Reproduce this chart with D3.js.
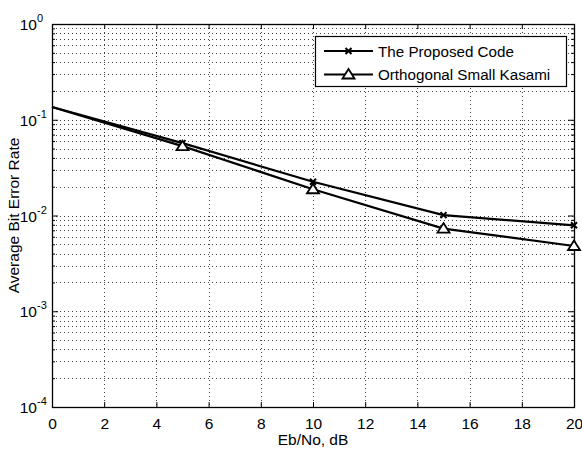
<!DOCTYPE html>
<html><head><meta charset="utf-8">
<script src="https://cdn.jsdelivr.net/npm/d3@7"></script>
<style>body{margin:0;background:#fff}svg{display:block}text{font-family:"Liberation Sans",Arial,sans-serif}</style>
</head><body><svg id="c" width="582" height="449"></svg>
<script>
const snr = [0, 5, 10, 15, 20];
const proposed = [0.136, 0.057, 0.0225, 0.0101, 0.0079];
const kasami = [0.136, 0.053, 0.0188, 0.0073, 0.0048];
const xTicks = [0,2,4,6,8,10,12,14,16,18,20];
const yExps = [0,-1,-2,-3,-4];
const seriesNames = ["The Proposed Code", "Orthogonal Small Kasami"];

const svg = d3.select("#c");
const L=52,R=574,T=24,B=407;
const x = d3.scaleLinear().domain([0,20]).range([L,R]);
const y = d3.scaleLog().domain([1e-4,1]).range([B,T]);

svg.append("rect").attr("x",0).attr("y",0).attr("width",582).attr("height",449).attr("fill","#fff");
const g = svg.append("g");
const minors=[];
for(let e=-4;e<0;e++){for(let m=2;m<=9;m++){minors.push(m*Math.pow(10,e));}}
const majors = yExps.map(e=>Math.pow(10,e));
const dot = "1,3";
g.selectAll(".hg").data(minors.concat(majors.slice(1,4))).join("line")
 .attr("x1",L).attr("x2",R).attr("y1",d=>Math.round(y(d))+0.5).attr("y2",d=>Math.round(y(d))+0.5)
 .attr("stroke","#000").attr("stroke-width",1).attr("stroke-dasharray",dot).attr("opacity",0.75);
g.selectAll(".vg").data(xTicks.slice(1,-1)).join("line")
 .attr("y1",T).attr("y2",B).attr("x1",d=>Math.round(x(d))+0.5).attr("x2",d=>Math.round(x(d))+0.5)
 .attr("stroke","#000").attr("stroke-width",1).attr("stroke-dasharray",dot).attr("opacity",0.75);

const xb = d3.axisBottom(x).tickValues(xTicks).tickSize(-5).tickPadding(11).tickFormat(d3.format("d"));
const xt = d3.axisTop(x).tickValues(xTicks).tickSize(-5).tickFormat("");
const yl = d3.axisLeft(y).tickValues(majors).tickSize(-6).tickFormat("");
const ylm = d3.axisLeft(y).tickValues(minors).tickSize(-3).tickFormat("");
const yr = d3.axisRight(y).tickValues(majors).tickSize(-6).tickFormat("");
const yrm = d3.axisRight(y).tickValues(minors).tickSize(-3).tickFormat("");
function style(sel){sel.select(".domain").remove();sel.selectAll("line").attr("stroke","#000");sel.selectAll("text").attr("fill","#000").attr("font-size",15.5).attr("font-family","Liberation Sans, Arial, sans-serif");}
g.append("g").attr("transform",`translate(0,${B})`).call(xb).call(style);
g.append("g").attr("transform",`translate(0,${T})`).call(xt).call(style);
g.append("g").attr("transform",`translate(${L},0)`).call(yl).call(style);
g.append("g").attr("transform",`translate(${L},0)`).call(ylm).call(style);
g.append("g").attr("transform",`translate(${R},0)`).call(yr).call(style);
g.append("g").attr("transform",`translate(${R},0)`).call(yrm).call(style);
g.append("rect").attr("x",L+0.5).attr("y",T+0.5).attr("width",R-L).attr("height",B-T).attr("fill","none").attr("stroke","#000").attr("stroke-width",1.3);

const yt = g.selectAll(".ytl").data(yExps).join("g");
yt.append("text").attr("font-size",15.5).attr("x",L-15).attr("y",d=>y(Math.pow(10,d))+6).attr("text-anchor","end").text("10");
yt.append("text").attr("font-size",11).attr("x",L-15).attr("y",d=>y(Math.pow(10,d))-2).attr("text-anchor","start").text(d=>d===0?"0":"-"+(-d));

g.append("text").attr("x",(L+R)/2).attr("y",445).attr("text-anchor","middle").attr("font-size",15.5).text("Eb/No, dB");
g.append("text").attr("transform",`translate(19,${(T+B)/2}) rotate(-90)`).attr("text-anchor","middle").attr("font-size",15.5).text("Average Bit Error Rate");

const line = d3.line().x((d,i)=>x(snr[i])).y(d=>y(d));
[proposed,kasami].forEach(s=>{
  g.append("path").attr("d",line(s)).attr("fill","none").attr("stroke","#000").attr("stroke-width",2.2);
});
function xMark(sel){sel.append("path").attr("d","M-3,-3L3,3M-3,3L3,-3").attr("stroke","#000").attr("stroke-width",2).attr("fill","none");}
function triMark(sel){sel.append("path").attr("d","M0,-5.5L6,4L-6,4Z").attr("stroke","#000").attr("stroke-width",1.8).attr("fill","#fff");}
proposed.forEach((v,i)=>{if(snr[i]===0)return;const m=g.append("g").attr("transform",`translate(${x(snr[i])},${y(v)})`);xMark(m);});
kasami.forEach((v,i)=>{if(snr[i]===0)return;const m=g.append("g").attr("transform",`translate(${x(snr[i])},${y(v)})`);triMark(m);});

const lg = g.append("g");
lg.append("rect").attr("x",315.5).attr("y",36.5).attr("width",251).attr("height",50).attr("fill","#fff").attr("stroke","#000").attr("stroke-width",1.2);
seriesNames.forEach((n,i)=>{
  const yy = 51+i*23.5;
  lg.append("line").attr("x1",324).attr("x2",373).attr("y1",yy).attr("y2",yy).attr("stroke","#000").attr("stroke-width",2.2);
  const m=lg.append("g").attr("transform",`translate(348.5,${yy})`);
  if(i===0)xMark(m);else triMark(m);
  lg.append("text").attr("x",378).attr("y",yy+5.5).attr("font-size",15.2).text(n);
});
</script></body></html>
